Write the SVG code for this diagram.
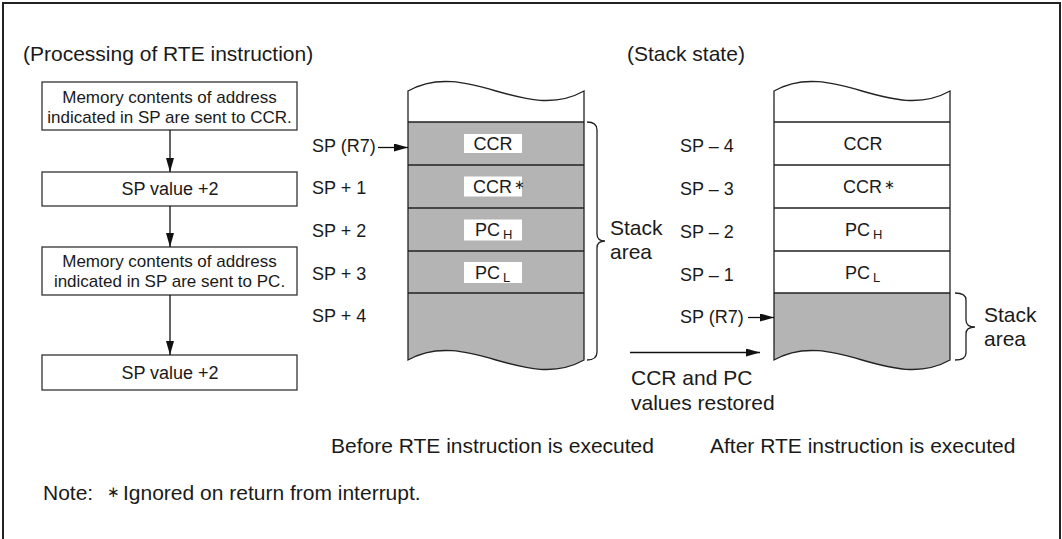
<svg xmlns="http://www.w3.org/2000/svg" width="1062" height="539" viewBox="0 0 1062 539">
<style>
text{font-family:"Liberation Sans",Arial,Helvetica,sans-serif;fill:#1a1a1a}
.t21{font-size:21px}
.t18{font-size:18px}
.t17{font-size:17px}
.mid{text-anchor:middle}
.box{fill:#fff;stroke:#333;stroke-width:1.3}
.edge{fill:none;stroke:#222;stroke-width:1.3}
.gray{fill:#b4b4b4}
.white{fill:#fff}
.lbl{fill:#fff}
.sub{font-size:13px}
.ast{font-family:"DejaVu Sans",sans-serif;font-size:13px}
</style>
<defs>
<marker id="ah" markerUnits="userSpaceOnUse" markerWidth="14" markerHeight="8" refX="14" refY="4" orient="auto">
<path d="M0,0 L14,4 L0,8 Z" fill="#111"/>
</marker>
</defs>
<rect x="3" y="3" width="1057" height="600" fill="#fff" stroke="#222" stroke-width="2"/>

<text class="t21" x="23" y="61">(Processing of RTE instruction)</text>
<text class="t21" x="627" y="61">(Stack state)</text>

<g id="step1">
<rect class="box" x="42" y="82" width="255" height="48"/>
<text class="t17 mid" x="169.5" y="103">Memory contents of address</text>
<text class="t17 mid" x="169.5" y="123">indicated in SP are sent to CCR.</text>
</g>
<g id="step2">
<rect class="box" x="42" y="172" width="255" height="34"/>
<text class="t18 mid" x="170" y="195">SP value +2</text>
</g>
<g id="step3">
<rect class="box" x="42" y="247" width="255" height="48"/>
<text class="t17 mid" x="169.5" y="267">Memory contents of address</text>
<text class="t17 mid" x="169.5" y="287">indicated in SP are sent to PC.</text>
</g>
<g id="step4">
<rect class="box" x="42" y="355" width="255" height="35"/>
<text class="t18 mid" x="170" y="378.5">SP value +2</text>
</g>

<g id="stack-before">
<path class="white" d="M408,91 C466.7,58 525.3,124 584,91 L584,122 L408,122 Z"/>
<path class="gray" d="M408,122 L584,122 L584,360 C525.3,393 466.7,327 408,360 Z"/>
<path class="edge" d="M408,91 C466.7,58 525.3,124 584,91 L584,360 C525.3,393 466.7,327 408,360 Z"/>
<path class="edge" d="M408,122H584M408,165H584M408,208H584M408,251H584M408,293H584"/>
<rect class="lbl" x="464" y="134" width="58" height="19"/>
<rect class="lbl" x="464" y="176.5" width="58" height="20"/>
<rect class="lbl" x="464" y="219.5" width="58" height="21"/>
<rect class="lbl" x="464" y="262" width="58" height="21"/>
<text class="t18 mid" x="493" y="150">CCR</text>
<text class="t18" x="473" y="193">CCR<tspan class="ast" dx="2" dy="-4">∗</tspan></text>
<text class="t18" x="475" y="235.5">PC<tspan class="sub" dx="3" dy="3.5">H</tspan></text>
<text class="t18" x="475" y="278.5">PC<tspan class="sub" dx="3" dy="3">L</tspan></text>
<text class="t18" x="312" y="151.5">SP (R7)</text>
<text class="t18" x="312" y="194">SP + 1</text>
<text class="t18" x="312" y="237">SP + 2</text>
<text class="t18" x="312" y="280">SP + 3</text>
<text class="t18" x="312" y="322">SP + 4</text>
<path class="edge" d="M587,122 Q597,122 597,130 L597,234 Q597,241 605,241 Q597,241 597,248 L597,352 Q597,360 587,360"/>
<text class="t21" x="610" y="235">Stack</text>
<text class="t21" x="610" y="258.5">area</text>
</g>

<g id="stack-after">
<path class="white" d="M774,91 C832.7,58 891.3,124 950,91 L950,293 L774,293 Z"/>
<path class="gray" d="M774,293 L950,293 L950,360 C891.3,393 832.7,327 774,360 Z"/>
<path class="edge" d="M774,91 C832.7,58 891.3,124 950,91 L950,360 C891.3,393 832.7,327 774,360 Z"/>
<path class="edge" d="M774,122H950M774,165H950M774,208H950M774,251H950M774,293H950"/>
<text class="t18 mid" x="863" y="150">CCR</text>
<text class="t18" x="843" y="193">CCR<tspan class="ast" dx="2" dy="-4">∗</tspan></text>
<text class="t18" x="845" y="235.5">PC<tspan class="sub" dx="3" dy="3.5">H</tspan></text>
<text class="t18" x="845" y="278.5">PC<tspan class="sub" dx="3" dy="3">L</tspan></text>
<text class="t18" x="680" y="151.5">SP – 4</text>
<text class="t18" x="680" y="194.5">SP – 3</text>
<text class="t18" x="680" y="237.5">SP – 2</text>
<text class="t18" x="680" y="280.5">SP – 1</text>
<text class="t18" x="680" y="323">SP (R7)</text>
<path class="edge" d="M955,293 Q966,293 966,300 L966,320 Q966,327 975,327 Q966,327 966,334 L966,353 Q966,360 955,360"/>
<text class="t21" x="984" y="322">Stack</text>
<text class="t21" x="984" y="346">area</text>
</g>

<g id="connectors" stroke="#111" stroke-width="1.3" fill="none">
<line x1="170" y1="130" x2="170" y2="172" marker-end="url(#ah)"/>
<line x1="170" y1="206" x2="170" y2="247" marker-end="url(#ah)"/>
<line x1="170" y1="295" x2="170" y2="355" marker-end="url(#ah)"/>
<line x1="378" y1="147.5" x2="408" y2="147.5" marker-end="url(#ah)"/>
<line x1="748" y1="317.5" x2="774" y2="317.5" marker-end="url(#ah)"/>
<line x1="630" y1="352.5" x2="760" y2="352.5" marker-end="url(#ah)"/>
</g>

<g id="captions">
<text class="t21" x="631" y="385">CCR and PC</text>
<text class="t21" x="631" y="410">values restored</text>
<text class="t21" x="331" y="453">Before RTE instruction is executed</text>
<text class="t21" x="710" y="453">After RTE instruction is executed</text>
<text class="t21" x="43" y="500">Note:</text>
<text class="ast" x="107" y="497" style="font-size:15px">∗</text>
<text class="t21" x="123" y="500">Ignored on return from interrupt.</text>
</g>
</svg>
